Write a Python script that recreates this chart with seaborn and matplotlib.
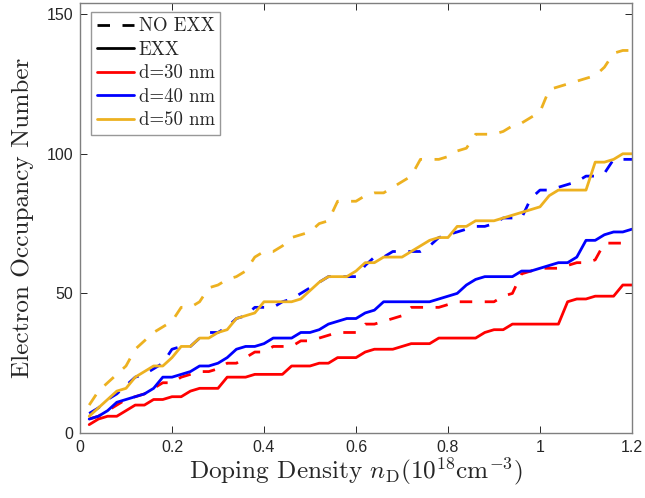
import numpy as np
import pandas as pd
import seaborn as sns
import matplotlib
matplotlib.use("Agg")
import matplotlib.pyplot as plt
from matplotlib.lines import Line2D
from matplotlib.ticker import FixedLocator, FixedFormatter

# Doping density grid (10^18 cm^-3)
n_d = [0.02, 0.04, 0.06, 0.08, 0.10, 0.12, 0.14, 0.16, 0.18, 0.20,
       0.22, 0.24, 0.26, 0.28, 0.30, 0.32, 0.34, 0.36, 0.38, 0.40,
       0.42, 0.44, 0.46, 0.48, 0.50, 0.52, 0.54, 0.56, 0.58, 0.60,
       0.62, 0.64, 0.66, 0.68, 0.70, 0.72, 0.74, 0.76, 0.78, 0.80,
       0.82, 0.84, 0.86, 0.88, 0.90, 0.92, 0.94, 0.96, 0.98, 1.00,
       1.02, 1.04, 1.06, 1.08, 1.10, 1.12, 1.14, 1.16, 1.18, 1.20]

# Electron occupancy numbers, without exchange (NO EXX)
noexx_30 = [5, 6, 8, 10, 12, 13, 14, 16, 18, 18,
            20, 21, 22, 22, 23, 25, 25, 27, 29, 29,
            31, 31, 31, 33, 33, 34, 35, 36, 36, 36,
            39, 39, 40, 41, 42, 45, 45, 45, 45, 46,
            47, 47, 47, 47, 47, 49, 50, 57, 58, 59,
            59, 59, 60, 61, 61, 62, 68, 68, 68, 68]
noexx_40 = [7, 9, 12, 14, 17, 20, 21, 23, 25, 30,
            31, 31, 34, 36, 36, 38, 41, 42, 45, 45,
            45, 47, 48, 50, 52, 54, 56, 56, 56, 56,
            60, 63, 63, 65, 65, 65, 65, 67, 70, 71,
            72, 73, 74, 74, 75, 77, 77, 77, 84, 87,
            87, 88, 89, 90, 92, 92, 93, 98, 98, 98]
noexx_50 = [10, 15, 18, 21, 24, 30, 33, 36, 38, 40,
            45, 45, 47, 52, 53, 55, 56, 58, 63, 65,
            65, 67, 70, 71, 72, 75, 76, 83, 83, 83,
            85, 86, 86, 88, 90, 92, 98, 98, 98, 99,
            101, 102, 107, 107, 107, 108, 110, 111, 113, 115,
            123, 124, 125, 126, 127, 128, 131, 136, 137, 137]

# Electron occupancy numbers, with exchange (EXX)
exx_30 = [3, 5, 6, 6, 8, 10, 10, 12, 12, 13,
          13, 15, 16, 16, 16, 20, 20, 20, 21, 21,
          21, 21, 24, 24, 24, 25, 25, 27, 27, 27,
          29, 30, 30, 30, 31, 32, 32, 32, 34, 34,
          34, 34, 34, 36, 37, 37, 39, 39, 39, 39,
          39, 39, 47, 48, 48, 49, 49, 49, 53, 53]
exx_40 = [5, 6, 8, 11, 12, 13, 14, 16, 20, 20,
          21, 22, 24, 24, 25, 27, 30, 31, 31, 32,
          34, 34, 34, 36, 36, 37, 39, 40, 41, 41,
          43, 44, 47, 47, 47, 47, 47, 47, 48, 49,
          50, 53, 55, 56, 56, 56, 56, 58, 58, 59,
          60, 61, 61, 63, 69, 69, 71, 72, 72, 73]
exx_50 = [6, 9, 12, 15, 16, 20, 22, 24, 24, 27,
          31, 31, 34, 34, 36, 37, 41, 42, 43, 47,
          47, 47, 47, 48, 51, 54, 56, 56, 56, 58,
          61, 61, 63, 63, 63, 65, 67, 69, 70, 70,
          74, 74, 76, 76, 76, 77, 78, 79, 80, 81,
          85, 87, 87, 87, 87, 97, 97, 98, 100, 100]

thickness = ["d=30 nm", "d=40 nm", "d=50 nm"]
methods = ["NO EXX", "EXX"]
colors = ["#FF0000", "#0000FF", "#EDB120"]

series = {
    ("NO EXX", "d=30 nm"): noexx_30,
    ("NO EXX", "d=40 nm"): noexx_40,
    ("NO EXX", "d=50 nm"): noexx_50,
    ("EXX", "d=30 nm"): exx_30,
    ("EXX", "d=40 nm"): exx_40,
    ("EXX", "d=50 nm"): exx_50,
}

frames = []
for (method, d), vals in series.items():
    frames.append(pd.DataFrame({"nD": n_d, "N": vals, "d": d, "method": method}))
df = pd.concat(frames, ignore_index=True)

sns.set_theme(style="white")
plt.rcParams["font.family"] = ["Liberation Sans", "DejaVu Sans"]
plt.rcParams["mathtext.fontset"] = "cm"
plt.rcParams["axes.unicode_minus"] = False

serif = ["cmr10", "DejaVu Serif"]
ink = "#262626"

fig = plt.figure(figsize=(6.45, 4.98), dpi=100)
ax = fig.add_axes([80 / 645, 65 / 498, 552 / 645, 430 / 498])

lw = 2.0
dash = (4.5, 4.5)
for method in methods:
    sub = df[df["method"] == method]
    sns.lineplot(data=sub, x="nD", y="N", hue="d", hue_order=thickness,
                 palette=colors, ax=ax, legend=False, linewidth=lw,
                 estimator=None, sort=False)
    if method == "NO EXX":
        for ln in ax.get_lines():
            ln.set_dashes(dash)
            ln.set_dash_capstyle("butt")

ax.set_xlim(0, 1.2)
ax.set_ylim(0, 154)
ax.xaxis.set_major_locator(FixedLocator([0, 0.2, 0.4, 0.6, 0.8, 1.0, 1.2]))
ax.xaxis.set_major_formatter(FixedFormatter(["0", "0.2", "0.4", "0.6", "0.8", "1", "1.2"]))
ax.yaxis.set_major_locator(FixedLocator([0, 50, 100, 150]))
ax.yaxis.set_major_formatter(FixedFormatter(["0", "50", "100", "150"]))
ax.tick_params(direction="in", length=5, width=0.7, color=ink,
               labelsize=11.5, labelcolor=ink, top=True, right=True,
               bottom=True, left=True, pad=5)
for sp in ax.spines.values():
    sp.set_color("#7f7f7f")
    sp.set_linewidth(1.0)

ax.set_xlabel(r"Doping Density $n_{\mathrm{D}}(10^{18}\mathrm{cm}^{-3})$",
              family=serif, fontsize=18.2, color=ink, labelpad=0)
ax.set_ylabel("Electron Occupancy Number",
              family=serif, fontsize=18.2, color=ink, labelpad=9)

handles = [
    Line2D([], [], color="black", lw=lw, dashes=dash, dash_capstyle="butt"),
    Line2D([], [], color="black", lw=lw),
    Line2D([], [], color=colors[0], lw=lw),
    Line2D([], [], color=colors[1], lw=lw),
    Line2D([], [], color=colors[2], lw=lw),
]
labels = ["NO EXX", "EXX"] + thickness
leg = ax.legend(handles, labels, loc="upper left", bbox_to_anchor=(0.02, 0.98),
                prop={"family": serif, "size": 13.5}, frameon=True,
                fancybox=False, edgecolor="#7f7f7f",
                handlelength=2.0, handletextpad=0.25, labelspacing=0.3,
                borderpad=0.3, borderaxespad=0)
leg.get_frame().set_linewidth(1.0)
for t in leg.get_texts():
    t.set_color(ink)

fig.savefig("out.png", dpi=100)
